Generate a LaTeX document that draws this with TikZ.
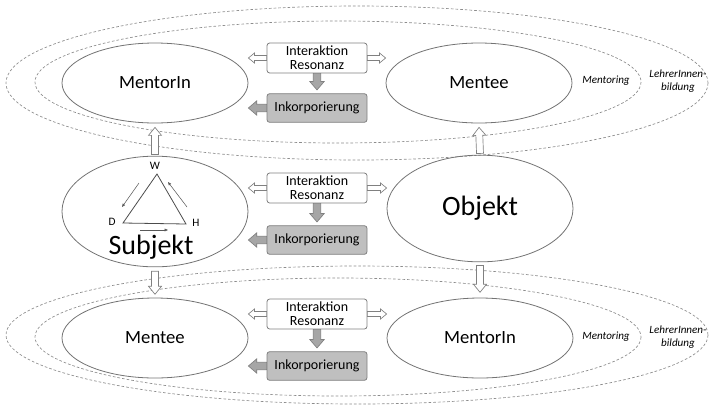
\documentclass[tikz,border=0pt]{standalone}
\usepackage{fontspec}
\setmainfont{Carlito}
\usepackage{tikz}
\usetikzlibrary{arrows.meta}
\usetikzlibrary{calc}
\usetikzlibrary{shapes.geometric}
\usetikzlibrary{positioning}

\begin{document}
\begin{tikzpicture}[x=0.75pt, y=-0.75pt, semithick,
  blockarrow/.style n args={3}{to path={
    let \p1=(\tikztostart), \p2=(\tikztotarget), \p3=($(\p2)!#3!(\p1)$) in
    ($(\p1)!#1!90:(\p2)$) -- ($(\p3)!#1!-90:(\p1)$) -- ($(\p3)!#2!-90:(\p1)$) -- (\p2)
    -- ($(\p3)!#2!90:(\p1)$) -- ($(\p3)!#1!90:(\p1)$) -- ($(\p1)!#1!-90:(\p2)$) -- cycle}}]
  \tikzstyle{role}=[ellipse, draw=black!55, line width=0.6pt, minimum width=139.5pt, minimum height=60pt, inner sep=0pt, font=\fontsize{14}{16}\selectfont]
  \tikzstyle{big}=[role, minimum height=82pt, font=\fontsize{21}{24}\selectfont]
  \tikzstyle{interbox}=[draw=black!50, fill=white, rounded corners=2pt, line width=0.6pt, minimum width=75pt, minimum height=22.5pt, inner sep=0.5pt, align=center, font=\fontsize{10.5}{10.5}\selectfont]
  \tikzstyle{inkobox}=[interbox, fill=black!25, minimum height=21.5pt]
  \tikzstyle{zone}=[draw=black!45, line width=0.5pt, dash pattern=on 2pt off 1.5pt]
  \tikzstyle{zonelabel}=[align=center, inner sep=0pt, font=\fontsize{8.3}{10}\selectfont\itshape]
  \tikzstyle{corner}=[inner sep=0pt, font=\fontsize{8.5}{10}\selectfont]
  \tikzstyle{share}=[blockarrow={1.9pt}{3.8pt}{4.6pt}, draw=black!50, fill=white, line width=0.5pt]
  \tikzstyle{lift}=[blockarrow={2.6pt}{4.9pt}{6pt}, draw=black!50, fill=white, line width=0.5pt]
  \tikzstyle{push}=[blockarrow={2.8pt}{5.4pt}{6.3pt}, draw=black!50, fill=black!35, line width=0.5pt]
  \tikzstyle{turn}=[draw=black!65, line width=0.4pt, -{Triangle[length=2.5pt,width=2pt]}]

  \useasboundingbox (0,0) rectangle (709,404);

  % Mentoring / LehrerInnenbildung
  \draw[zone] (357,83) ellipse [x radius=351, y radius=77];
  \draw[zone] (338,82) ellipse [x radius=303, y radius=61];
  \draw[zone] (357,335) ellipse [x radius=351, y radius=69];
  \draw[zone] (338,337) ellipse [x radius=303, y radius=59];
  \node[zonelabel] (mentA) at (606,81) {Mentoring};
  \node[zonelabel] (lehrA) at (678,81) {LehrerInnen-\\bildung};
  \node[zonelabel] (mentB) at (606,337) {Mentoring};
  \node[zonelabel] (lehrB) at (678,337) {LehrerInnen-\\bildung};

  % ellipses
  \node[role] (mentorA) at (155,83) {MentorIn};
  \node[role] (menteeA) at (479,83) {Mentee};
  \node[big, minimum height=83pt] (subj) at (155,211.5) {};
  \node[big, minimum height=80pt] (obj) at (480,208.5) {Objekt};
  \node[role] (menteeB) at (155,338) {Mentee};
  \node[role] (mentorB) at (480,338) {MentorIn};

  % boxes
  \node[interbox] (interA) at (317,58) {Interaktion\\Resonanz};
  \node[inkobox] (inkoA) at (317,108) {Inkorporierung};
  \node[interbox] (interB) at (317,188) {Interaktion\\Resonanz};
  \node[inkobox] (inkoB) at (317,240) {Inkorporierung};
  \node[interbox] (interC) at (317,314) {Interaktion\\Resonanz};
  \node[inkobox] (inkoC) at (317,366) {Inkorporierung};

  % Subjekt with triangle
  \node[font=\fontsize{21}{24}\selectfont, inner sep=0pt] (subjtxt) at (151,247) {Subjekt};
  \coordinate (tW) at (157,174);
  \coordinate (tD) at (123,223);
  \coordinate (tH) at (186,224);
  \draw[black!70, line width=0.6pt] (tW) -- (tD) -- (tH) -- cycle;
  \node[corner] (lW) at (155,166) {W};
  \node[corner] (lD) at (112,222) {D};
  \node[corner] (lH) at (196,223) {H};
  \coordinate (wd1) at (139,183);
  \coordinate (wd2) at (122,207);
  \coordinate (dh1) at (140,230);
  \coordinate (dh2) at (168,230);
  \coordinate (hw1) at (187,207);
  \coordinate (hw2) at (168,182);
  \draw[turn] (wd1) -- (wd2);
  \draw[turn] (dh1) -- (dh2);
  \draw[turn] (hw1) -- (hw2);

  % arrows
  \foreach \i/\lft/\rgt in {A/mentorA/menteeA, B/subj/obj, C/menteeB/mentorB}{
    \draw[share] (inter\i.west) to (inter\i.west -| \lft.east);
    \draw[share] (inter\i.east) to (inter\i.east -| \rgt.west);
    \draw[push] (inter\i.south) to ([yshift=2.5pt]inko\i.north);
    \draw[push] (inko\i.west) to (inko\i.west -| \lft.east);
  }
  \draw[lift] ([yshift=1pt]subj.north) to ([yshift=-3pt]mentorA.south);
  \draw[lift] ([yshift=1pt]obj.north) to ([yshift=-3pt]menteeA.south);
  \draw[lift] ([yshift=-3pt]subj.south) to ([yshift=2.5pt]menteeB.north);
  \draw[lift] ([yshift=-2.5pt]obj.south) to ([yshift=4pt]mentorB.north);
\end{tikzpicture}
\end{document}
